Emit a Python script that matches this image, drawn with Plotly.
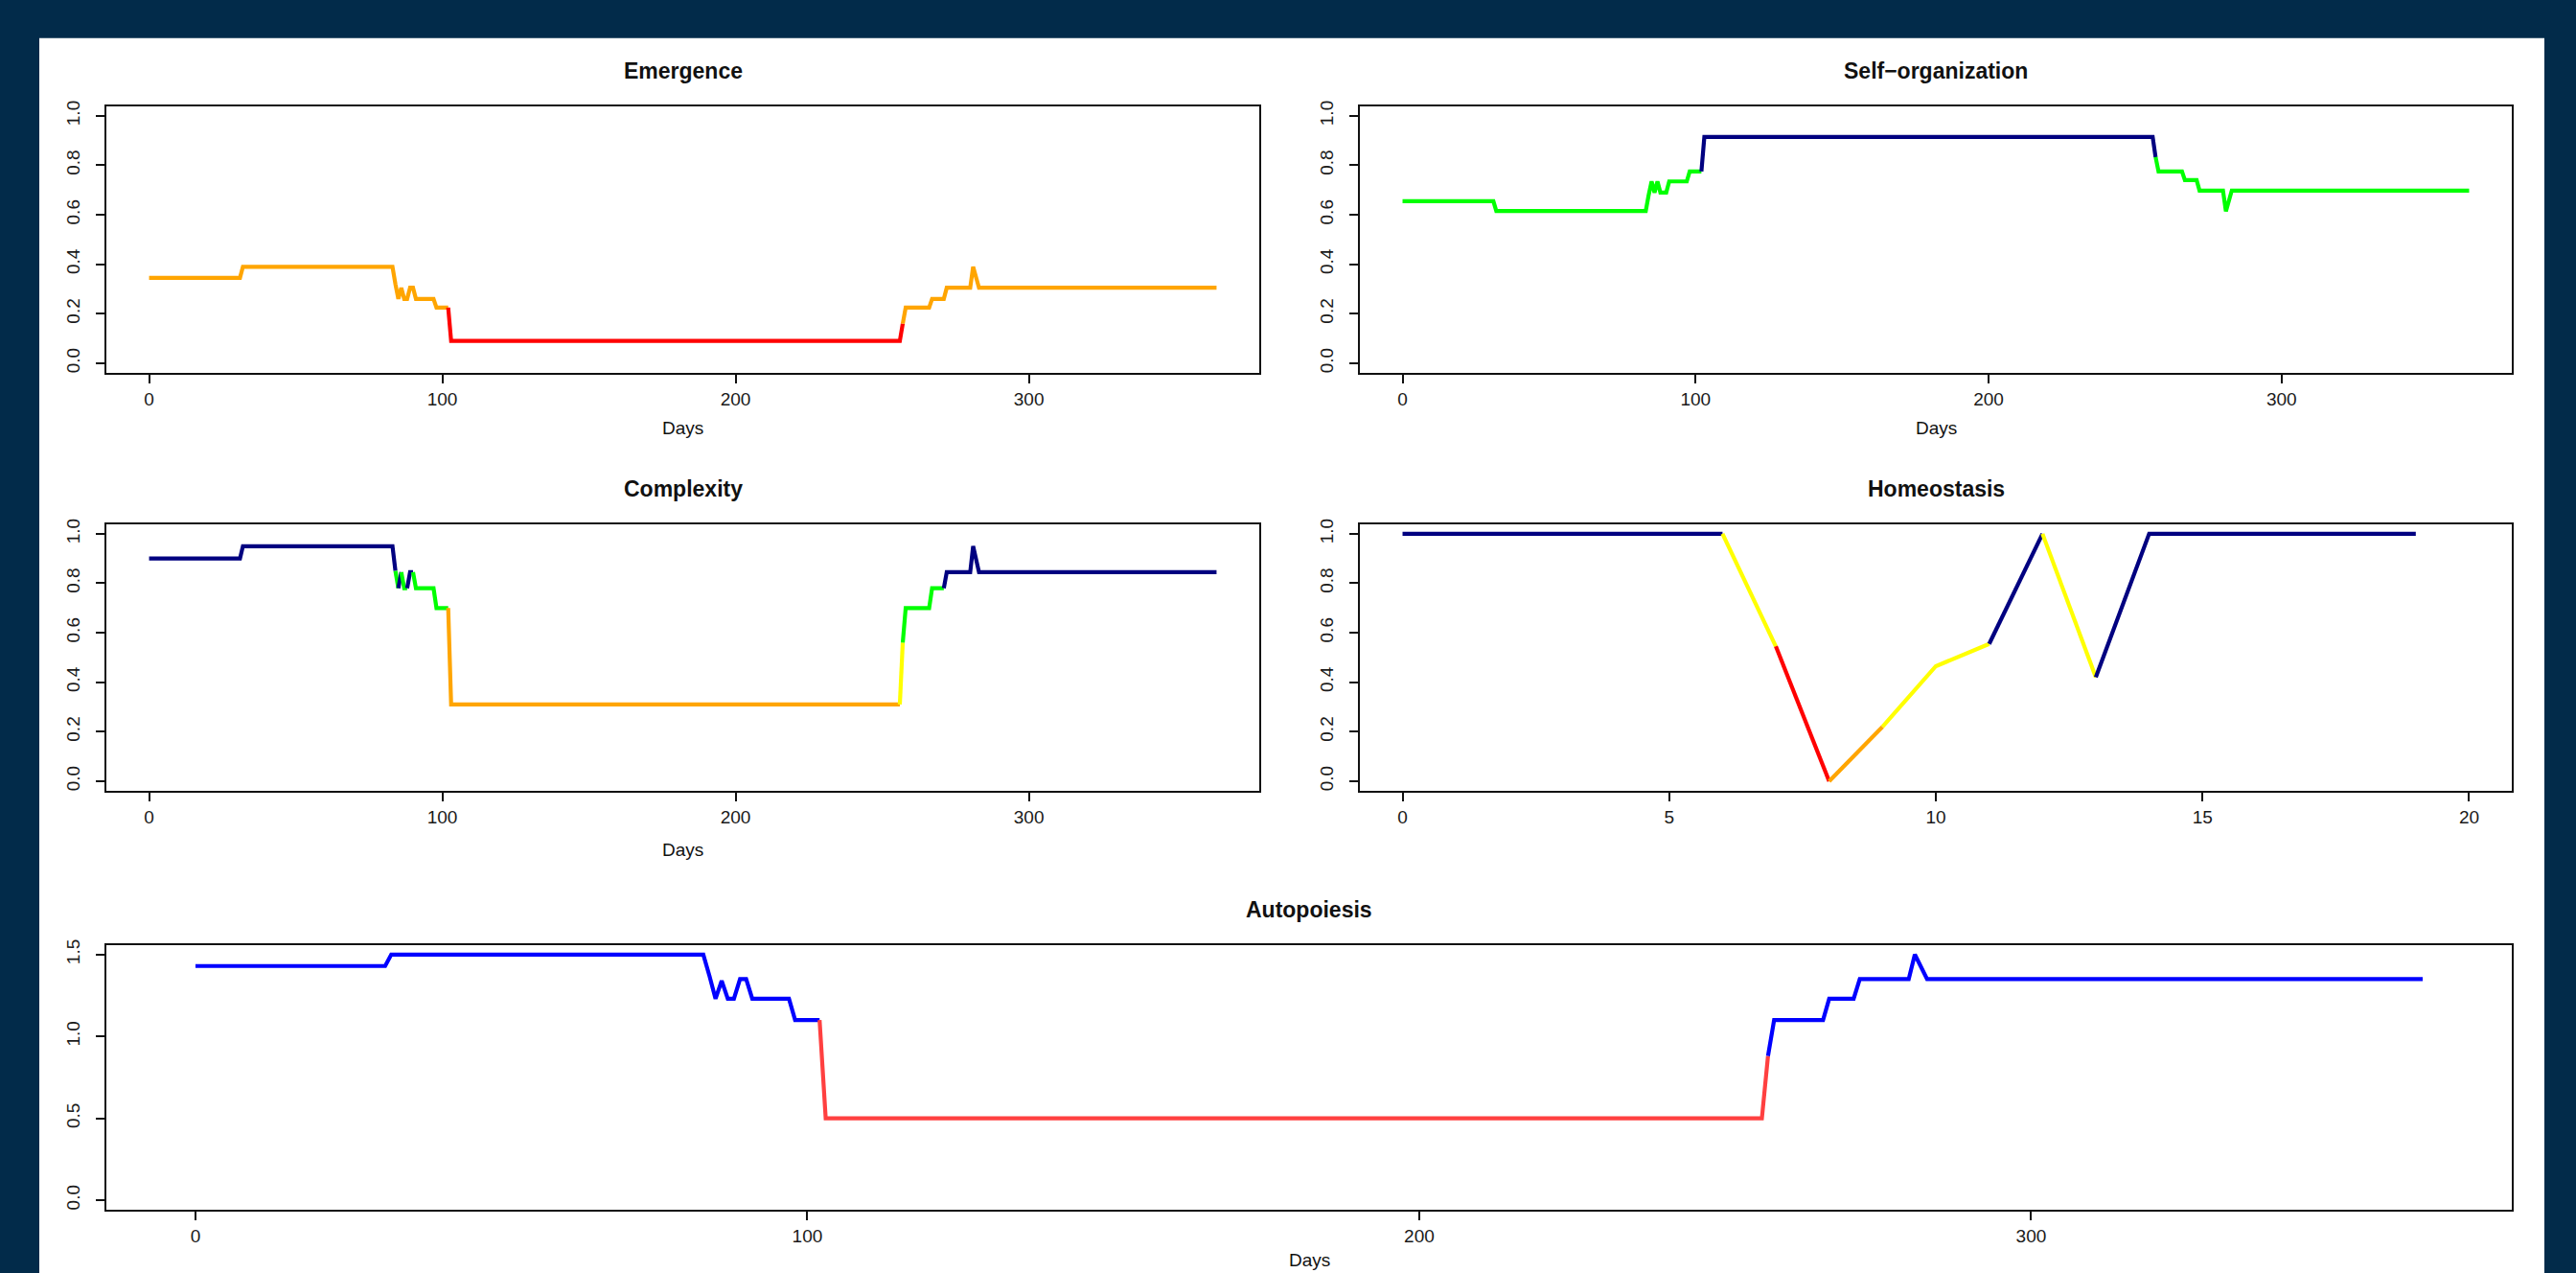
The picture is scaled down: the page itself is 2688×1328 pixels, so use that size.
import plotly.graph_objects as go

W, H = 2688, 1328
FONT = "Liberation Sans, Arial, Helvetica, sans-serif"

# ---------------- data ----------------
days = [0, 31, 32, 83, 84, 85, 86, 87, 88, 89, 90, 91, 97, 98, 102, 103,
        256, 257, 258, 266, 267, 271, 272, 280, 281, 283, 364]

emergence = [0.345, 0.345, 0.39, 0.39, 0.32, 0.26, 0.305, 0.26, 0.26, 0.305, 0.305, 0.26,
             0.26, 0.225, 0.225, 0.09, 0.09, 0.16, 0.225, 0.225, 0.26, 0.26, 0.305,
             0.305, 0.39, 0.305, 0.305]

self_organization = [0.655, 0.655, 0.615, 0.615, 0.68, 0.735, 0.69, 0.735, 0.69, 0.69, 0.69,
                     0.735, 0.735, 0.775, 0.775, 0.915, 0.915, 0.833, 0.775, 0.775, 0.74,
                     0.74, 0.698, 0.698, 0.614, 0.698, 0.698]

complexity = [0.90, 0.90, 0.95, 0.95, 0.85, 0.78, 0.845, 0.78, 0.78, 0.845, 0.845, 0.78,
              0.78, 0.70, 0.70, 0.31, 0.31, 0.56, 0.70, 0.70, 0.78, 0.78, 0.845, 0.845,
              0.95, 0.845, 0.845]

autopoiesis = [1.43, 1.43, 1.50, 1.50, 1.37, 1.23, 1.34, 1.23, 1.23, 1.35, 1.35, 1.23,
               1.23, 1.10, 1.10, 0.50, 0.50, 0.88, 1.10, 1.10, 1.23, 1.23, 1.35, 1.35,
               1.50, 1.35, 1.35]

homeo_steps = list(range(20))
homeostasis = [1.0, 1.0, 1.0, 1.0, 1.0, 1.0, 1.0, 0.545, 0.0, 0.22, 0.465, 0.555,
               1.0, 0.42, 1.0, 1.0, 1.0, 1.0, 1.0, 1.0]

day_ticks = [0, 100, 200, 300]
step_ticks = [0, 5, 10, 15, 20]
unit_ticks = [0.0, 0.2, 0.4, 0.6, 0.8, 1.0]
unit_tick_labels = ["0.0", "0.2", "0.4", "0.6", "0.8", "1.0"]
auto_ticks = [0.0, 0.5, 1.0, 1.5]
auto_tick_labels = ["0.0", "0.5", "1.0", "1.5"]

# ---------------- styles ----------------
BG = "#022b4a"
RED, ORANGE, YELLOW, GREEN, NAVY = "#FF0000", "#FFA500", "#FFFF00", "#00FF00", "#000080"
BLUE, LIGHTRED = "#0000FF", "#FF4040"


def level_color(v):
    if v < 0.2:
        return RED
    if v < 0.4:
        return ORANGE
    if v < 0.6:
        return YELLOW
    if v < 0.8:
        return GREEN
    return NAVY


def auto_color(v):
    return BLUE if v >= 1.0 else LIGHTRED


def colored_runs(xs, ys, cfun):
    """Group consecutive segments (colored by their end value) into polylines."""
    runs = []
    start = 0
    cur = cfun(ys[1])
    for i in range(2, len(xs)):
        c = cfun(ys[i])
        if c != cur:
            runs.append((xs[start:i], ys[start:i], cur))
            start = i - 1
            cur = c
    runs.append((xs[start:], ys[start:], cur))
    return runs


# panels: title, x, y, color fn, box (left, top, right, bottom) px, x range, y range,
#         x ticks, y ticks, y labels, "Days" label y position (px) or None
panels = [
    ("Emergence", days, emergence, level_color, (111, 105, 1314, 385),
     [-14.56, 378.56], [-0.04, 1.04], day_ticks, unit_ticks, unit_tick_labels, 443),
    ("Self\u2212organization", days, self_organization, level_color, (1419, 105, 2621, 385),
     [-14.56, 378.56], [-0.04, 1.04], day_ticks, unit_ticks, unit_tick_labels, 443),
    ("Complexity", days, complexity, level_color, (111, 543, 1314, 823),
     [-14.56, 378.56], [-0.04, 1.04], day_ticks, unit_ticks, unit_tick_labels, 884),
    ("Homeostasis", homeo_steps, homeostasis, level_color, (1419, 543, 2621, 823),
     [-0.8, 20.8], [-0.04, 1.04], step_ticks, unit_ticks, unit_tick_labels, None),
    ("Autopoiesis", days, autopoiesis, auto_color, (111, 984, 2621, 1262),
     [-14.56, 378.56], [-0.06, 1.56], day_ticks, auto_ticks, auto_tick_labels, 1314),
]

fig = go.Figure()
layout = dict(
    width=W, height=H, autosize=False,
    margin=dict(l=0, r=0, t=0, b=0),
    paper_bgcolor=BG, plot_bgcolor="white",
    showlegend=False,
    font=dict(family=FONT, color="#111"),
    shapes=[dict(type="rect", xref="paper", yref="paper",
                 x0=41 / W, x1=2655 / W, y0=0, y1=1 - 34 / H,
                 fillcolor="white", line=dict(width=0), layer="below")],
    annotations=[],
)

for k, (title, xs, ys, cfun, box, xr, yr, xt, yt, ytl, days_y) in enumerate(panels, start=1):
    l, t, r, b = box
    xa = "xaxis" if k == 1 else f"xaxis{k}"
    ya = "yaxis" if k == 1 else f"yaxis{k}"
    xref = "x" if k == 1 else f"x{k}"
    yref = "y" if k == 1 else f"y{k}"
    for rx, ry, c in colored_runs(xs, ys, cfun):
        fig.add_trace(go.Scatter(x=rx, y=ry, mode="lines", xaxis=xref, yaxis=yref,
                                 line=dict(color=c, width=4.2), hoverinfo="x+y"))
    common = dict(showline=True, linecolor="#111", linewidth=2, mirror=True,
                  showgrid=False, zeroline=False, ticks="outside", ticklen=9,
                  tickwidth=1.6, tickcolor="#111",
                  tickfont=dict(family=FONT, size=19, color="#1a1a1a"))
    layout[xa] = dict(domain=[l / W, r / W], anchor=yref, range=xr,
                      tickvals=xt, ticktext=[str(v) for v in xt], **common)
    layout[ya] = dict(domain=[1 - b / H, 1 - t / H], anchor=xref, range=yr,
                      tickvals=yt, ticktext=ytl, tickangle=-90, ticklabelstandoff=9, **common)
    cx = (l + r) / 2 / W
    layout["annotations"].append(dict(
        text=f"<b>{title}</b>", xref="paper", yref="paper", x=cx, y=1 - (t - 37) / H,
        xanchor="center", yanchor="middle", showarrow=False,
        font=dict(family=FONT, size=23, color="#111")))
    if days_y is not None:
        layout["annotations"].append(dict(
            text="Days", xref="paper", yref="paper", x=cx, y=1 - days_y / H,
            xanchor="center", yanchor="middle", showarrow=False,
            font=dict(family=FONT, size=19, color="#111")))

fig.update_layout(**layout)
fig.write_html("out.html",
               config={"displayModeBar": False},
               post_script="document.body.style.margin='0px';"
                           "document.body.style.overflow='hidden';")
